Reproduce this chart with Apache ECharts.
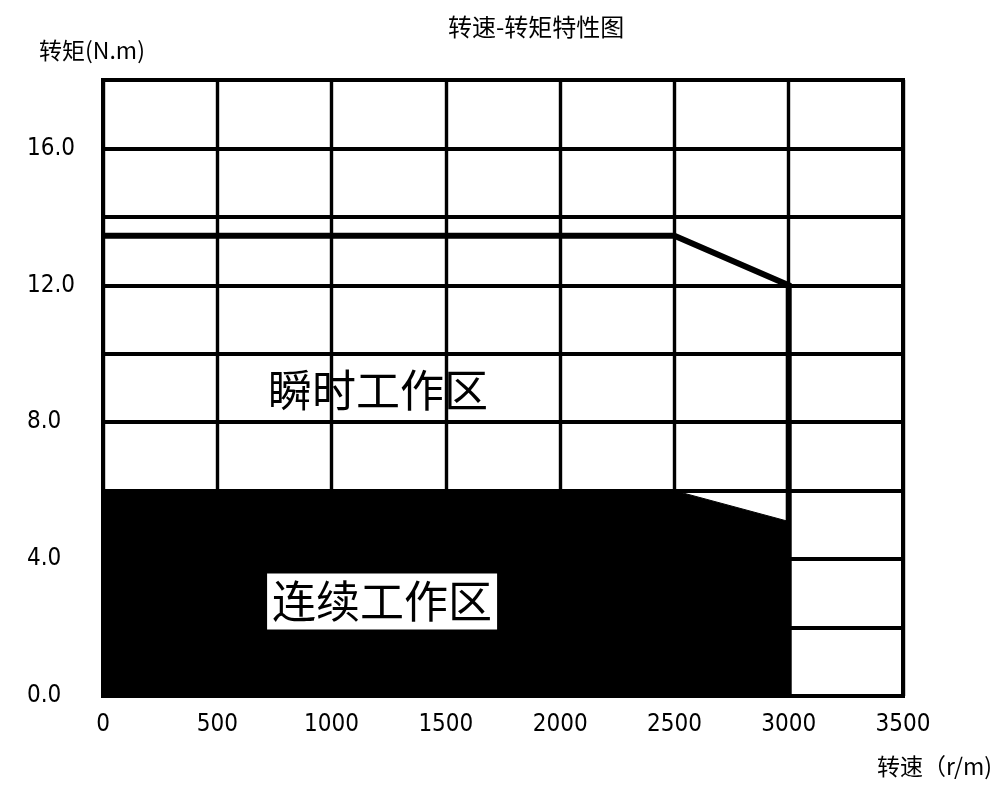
<!DOCTYPE html>
<html>
<head>
<meta charset="utf-8">
<script src="https://cdn.jsdelivr.net/npm/echarts@6/dist/echarts.min.js"></script>
<style>html,body{margin:0;padding:0;background:#fff;overflow:hidden}#c{width:997px;height:801px}</style>
</head>
<body>
<div id="c"></div>
<script>
// ---- data ----
const titleText = '转速-转矩特性图';
const xName = '转速（r/m)';
const yName = '转矩(N.m)';
const xTicks = [0, 500, 1000, 1500, 2000, 2500, 3000, 3500];
const yTickLabels = ['0.0', '4.0', '8.0', '12.0', '16.0'];
// instantaneous (peak) torque boundary: [speed, torque]
const peakCurve = [[0, 13.45], [2500, 13.45], [3000, 12.0], [3000, 0]];
// continuous torque boundary: [speed, torque]
const contCurve = [[0, 6.0], [2500, 6.0], [3000, 5.1], [3000, 0]];
// zone annotations: [speed, torque, text]
const zoneLabels = [[1203, 8.92, '瞬时工作区'], [1221, 2.76, '连续工作区']];

const numFont = "'DejaVu Sans Condensed','Liberation Sans Narrow',sans-serif";
const cjkFont = "'Noto Sans CJK SC','Noto Sans CJK JP',sans-serif";

const chart = echarts.init(document.getElementById('c'), null, {renderer: 'canvas'});
chart.setOption({
  backgroundColor: '#fff',
  animation: false,
  title: {
    text: titleText, left: 443, top: 10,
    textStyle: {fontFamily: cjkFont, fontSize: 24, fontWeight: 'normal', color: '#000'}
  },
  grid: {left: 103, right: 94, top: 80, bottom: 105, show: true, borderColor: '#000', borderWidth: 4,
    containLabel: false, outerBoundsMode: 'none'},
  xAxis: {
    type: 'value', min: xTicks[0], max: xTicks[xTicks.length - 1], interval: 500,
    name: xName, nameLocation: 'end', nameGap: -26,
    nameTextStyle: {fontFamily: cjkFont, fontSize: 23, color: '#000', align: 'left', verticalAlign: 'top', padding: [59, 0, 0, 0]},
    axisLine: {lineStyle: {color: '#000', width: 4}},
    axisTick: {show: false},
    axisLabel: {color: '#000', fontFamily: numFont, fontSize: 24, margin: 17,
      formatter: v => xTicks.includes(v) ? String(v) : ''},
    splitLine: {show: true, lineStyle: {color: '#000', width: 3.4}}
  },
  yAxis: {
    type: 'value', min: 0, max: 18, interval: 2,
    name: yName, nameLocation: 'end', nameGap: 30,
    nameTextStyle: {fontFamily: cjkFont, fontSize: 23, color: '#000', align: 'center', verticalAlign: 'middle', padding: [0, 22, 0, 0]},
    axisLine: {show: true, lineStyle: {color: '#000', width: 4}},
    axisTick: {show: false},
    axisLabel: {color: '#000', fontFamily: numFont, fontSize: 24, margin: 76, align: 'left',
      formatter: v => { const s = v.toFixed(1); return yTickLabels.includes(s) ? s : ''; }},
    splitLine: {show: true, lineStyle: {color: '#000', width: 4}}
  },
  series: [
    {
      name: '连续', type: 'line', data: contCurve, symbol: 'none',
      lineStyle: {color: '#000', width: 1},
      areaStyle: {color: '#000', opacity: 1}, z: 2
    },
    {
      name: '瞬时', type: 'line', data: peakCurve, symbol: 'none',
      lineStyle: {color: '#000', width: 6, join: 'miter'}, z: 3
    },
    {
      name: 'zones', type: 'scatter', symbolSize: 0, z: 5,
      itemStyle: {opacity: 1},
      emphasis: {disabled: true},
      data: zoneLabels.map((d, i) => ({
        value: [d[0], d[1]],
        label: {
          show: true, position: 'inside', formatter: d[2],
          fontFamily: cjkFont, fontSize: 44, color: '#000', opacity: 1,
          backgroundColor: i === 1 ? '#fff' : 'transparent',
          padding: i === 1 ? [6, 5, 6, 5] : 0
        }
      }))
    }
  ]
});
</script>
</body>
</html>
